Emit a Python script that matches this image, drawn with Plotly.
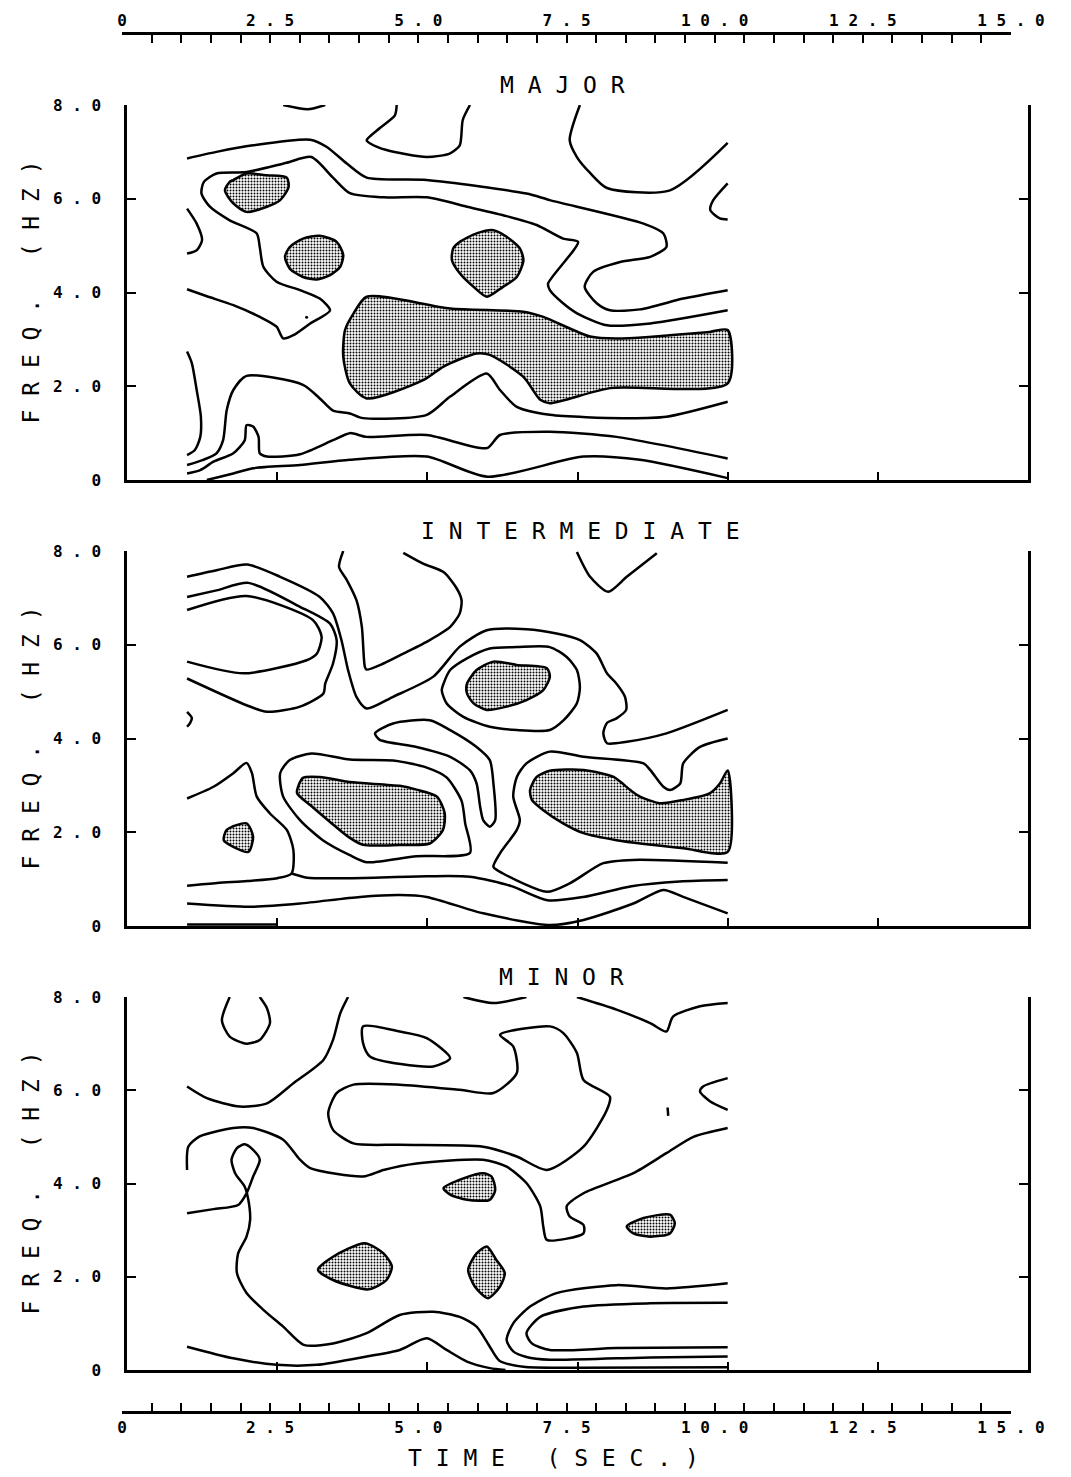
import plotly.graph_objects as go

W, H = 1071, 1477

# ---------------- tick labels / titles ----------------
freq_ticks = [0, 2, 4, 6, 8]
freq_labels = ["0", "2 . 0", "4 . 0", "6 . 0", "8 . 0"]
time_ticks = [i * 0.5 for i in range(31)]
time_major = {0: "0", 2.5: "2 . 5", 5: "5 . 0", 7.5: "7 . 5", 10: "1 0 . 0", 12.5: "1 2 . 5", 15: "1 5 . 0"}
panel_titles = ["M A J O R", "I N T E R M E D I A T E", "M I N O R"]
y_title = "F R E Q .   ( H Z )"
x_title = "T I M E   ( S E C . )"

# ---------------- MAJOR : contour lines (time s, freq Hz) ----------------
major_top_arc = [(2.60, 8.0), (3.01, 7.91), (3.30, 8.0)]
major_hang = [(4.49, 8.0), (4.46, 7.78), (4.21, 7.51), (3.99, 7.25), (4.05, 7.18), (4.32, 7.04), (4.99, 6.89),
              (5.38, 6.97), (5.54, 7.14), (5.59, 7.68), (5.71, 8.0)]
major_upper_right = [(7.54, 8.0), (7.37, 7.25), (7.49, 6.89), (7.71, 6.55), (7.99, 6.23), (9.04, 6.18), (10.0, 7.19)]
major_right_arc = [(10.0, 6.33), (9.76, 5.97), (9.71, 5.76), (9.87, 5.58), (10.0, 5.56)]
major_outer = [(1.0, 6.86), (1.49, 7.00), (2.10, 7.14), (3.05, 7.26), (3.32, 7.11), (3.66, 6.75), (3.99, 6.45),
               (4.99, 6.40), (6.65, 6.11), (7.04, 5.97), (8.60, 5.47), (8.93, 5.26), (8.98, 4.97), (8.71, 4.76),
               (8.21, 4.65), (7.76, 4.44), (7.62, 4.12), (7.82, 3.77), (8.04, 3.62), (8.54, 3.64), (9.26, 3.87),
               (10.0, 4.05)]
major_left_arc = [(1.0, 5.79), (1.16, 5.47), (1.25, 5.12), (1.16, 4.90), (1.0, 4.83)]
major_inner = [(10.0, 3.62), (8.71, 3.34), (7.99, 3.30), (7.5, 3.55), (7.26, 3.77), (7.04, 4.05), (7.01, 4.19),
               (7.51, 5.08), (7.26, 5.15), (6.82, 5.44), (6.32, 5.63), (5.66, 5.83), (4.99, 6.03), (4.27, 6.03),
               (3.71, 6.12), (3.43, 6.45), (3.07, 6.89), (2.66, 6.77), (1.99, 6.57), (1.49, 6.54), (1.28, 6.36),
               (1.24, 6.11), (1.38, 5.83), (1.71, 5.54), (2.16, 5.26), (2.21, 4.97), (2.27, 4.55), (2.49, 4.23),
               (2.88, 4.05), (3.21, 3.87), (3.38, 3.62), (3.05, 3.34), (2.77, 3.09), (2.60, 3.02), (2.49, 3.27),
               (2.21, 3.48), (1.77, 3.73), (1.33, 3.92), (1.0, 4.07)]
major_dot = [(2.99, 3.47)]
major_low_arc = [(1.0, 2.74), (1.08, 2.49), (1.16, 1.92), (1.23, 1.35), (1.22, 0.92), (1.13, 0.64), (1.0, 0.53)]
major_g = [(1.0, 0.32), (1.27, 0.43), (1.49, 0.57), (1.60, 0.85), (1.66, 1.49), (1.77, 1.92), (1.99, 2.22),
           (2.93, 2.03), (3.21, 1.74), (3.43, 1.48), (3.71, 1.42), (3.93, 1.32), (4.99, 1.39), (5.38, 1.78),
           (5.99, 2.27), (6.21, 1.92), (6.49, 1.56), (7.04, 1.39), (8.26, 1.32), (8.98, 1.35), (10.0, 1.67)]
major_h = [(1.0, 0.14), (1.22, 0.21), (1.44, 0.39), (1.77, 0.57), (1.96, 0.85), (1.99, 1.17), (2.10, 1.14),
           (2.19, 0.92), (2.21, 0.57), (2.33, 0.50), (2.88, 0.55), (3.43, 0.85), (3.71, 1.0), (3.99, 0.92),
           (4.99, 0.96), (5.99, 0.68), (6.21, 0.96), (7.04, 1.03), (8.15, 0.92), (10.0, 0.46)]
major_i = [(1.33, 0.0), (1.77, 0.14), (2.10, 0.25), (2.88, 0.32), (3.71, 0.43), (4.99, 0.50), (6.0, 0.07),
           (7.6, 0.50), (8.54, 0.43), (10.0, 0.04)]
# MAJOR : shaded (highest level) areas
major_blob1 = [(1.77, 6.40), (1.99, 6.54), (2.33, 6.50), (2.66, 6.45), (2.69, 6.25), (2.55, 5.97), (2.33, 5.83),
               (1.99, 5.72), (1.77, 5.90), (1.63, 6.18), (1.71, 6.36)]
major_blob2 = [(2.71, 4.97), (2.93, 5.15), (3.21, 5.21), (3.49, 5.08), (3.60, 4.80), (3.55, 4.55), (3.38, 4.37),
               (3.16, 4.28), (2.93, 4.33), (2.71, 4.51), (2.63, 4.76)]
major_blob3 = [(5.54, 5.08), (5.82, 5.26), (6.10, 5.33), (6.32, 5.19), (6.54, 4.94), (6.60, 4.69), (6.49, 4.33),
               (6.26, 4.12), (5.99, 3.91), (5.77, 4.12), (5.54, 4.41), (5.41, 4.69), (5.43, 4.94)]
major_band = [(3.99, 3.91), (5.38, 3.66), (6.60, 3.59), (6.93, 3.48), (7.71, 3.06), (8.15, 3.02), (9.70, 3.16),
              (10.0, 3.20), (10.0, 2.06), (8.04, 1.96), (7.04, 1.64), (6.88, 1.71), (6.60, 2.20), (6.04, 2.67),
              (5.82, 2.70), (5.27, 2.42), (4.93, 2.13), (3.99, 1.74), (3.71, 2.06), (3.60, 2.63), (3.63, 3.20),
              (3.77, 3.55)]

# ---------------- INTERMEDIATE ----------------
inter_a = [(1.0, 7.45), (1.49, 7.59), (2.0, 7.71), (2.55, 7.45), (3.21, 7.02), (3.43, 6.67), (3.57, 6.10),
           (3.68, 5.46), (3.82, 4.89), (3.99, 4.64), (4.43, 4.89), (5.10, 5.32), (5.54, 5.96), (5.99, 6.31),
           (6.65, 6.33), (7.15, 6.24), (7.54, 6.10), (7.82, 5.81), (7.99, 5.39), (8.15, 5.17), (8.29, 4.89),
           (8.31, 4.61), (8.15, 4.43), (7.99, 4.33), (7.93, 4.11), (7.99, 3.90), (8.32, 3.93), (8.98, 4.11),
           (10.0, 4.61)]
inter_hang = [(3.60, 8.0), (3.53, 7.66), (3.66, 7.38), (3.82, 6.95), (3.91, 6.38), (3.96, 5.53), (3.99, 5.47),
              (4.27, 5.60), (4.60, 5.81), (5.04, 6.10), (5.38, 6.38), (5.54, 6.67), (5.57, 6.95), (5.49, 7.20),
              (5.27, 7.55), (4.93, 7.73), (4.60, 7.96)]
inter_top_v = [(7.49, 7.98), (7.71, 7.45), (8.01, 7.13), (8.32, 7.45), (8.82, 7.95)]
inter_b = [(1.0, 7.02), (1.49, 7.16), (2.02, 7.32), (2.88, 6.81), (3.38, 6.45), (3.49, 6.10), (3.43, 5.60),
           (3.30, 5.17), (3.27, 4.96), (2.88, 4.68), (2.33, 4.57), (1.99, 4.71), (1.0, 5.28)]
inter_c = [(1.0, 6.74), (1.99, 7.04), (3.10, 6.52), (3.24, 6.17), (3.16, 5.81), (2.99, 5.67), (1.94, 5.39),
           (1.0, 5.64)]
inter_small = [(1.0, 4.57), (1.08, 4.44), (1.05, 4.33), (1.0, 4.25)]
inter_ring4 = [(5.27, 5.17), (5.38, 5.46), (5.66, 5.71), (6.04, 5.92), (6.49, 5.95), (7.04, 5.95), (7.32, 5.74),
               (7.49, 5.46), (7.54, 5.10), (7.49, 4.75), (7.27, 4.39), (7.04, 4.18), (6.49, 4.18), (6.04, 4.25),
               (5.60, 4.46), (5.32, 4.75), (5.24, 5.03), (5.27, 5.17)]
inter_island = [(4.13, 4.11), (4.43, 4.32), (5.04, 4.39), (5.38, 4.18), (5.82, 3.82), (6.04, 3.54), (6.10, 3.04),
                (6.13, 2.26), (6.04, 2.12), (5.93, 2.26), (5.88, 2.54), (5.82, 3.04), (5.71, 3.32), (5.38, 3.61),
                (4.82, 3.82), (4.21, 3.97), (4.13, 4.11)]
inter_ring6 = [(3.07, 3.68), (2.71, 3.54), (2.55, 3.26), (2.60, 2.76), (2.88, 2.26), (3.26, 1.83), (3.71, 1.51),
               (3.99, 1.36), (4.82, 1.49), (5.71, 1.56), (5.63, 2.19), (5.57, 2.67), (5.32, 3.17), (4.99, 3.38),
               (4.43, 3.53), (3.71, 3.55), (3.07, 3.68)]
inter_ring5 = [(10.0, 4.0), (9.54, 3.82), (9.26, 3.47), (9.21, 3.04), (9.04, 2.90), (8.93, 2.97), (8.71, 3.33),
               (8.60, 3.47), (7.60, 3.61), (7.04, 3.72), (6.65, 3.47), (6.49, 3.18), (6.43, 2.76), (6.54, 2.26),
               (6.49, 2.05), (6.21, 1.55), (6.10, 1.26), (6.26, 1.12), (6.99, 0.73), (7.37, 0.91), (7.93, 1.34),
               (8.43, 1.41), (10.0, 1.35)]
inter_left = [(1.0, 2.72), (1.44, 2.97), (1.77, 3.26), (1.99, 3.48), (2.08, 3.26), (2.16, 2.76), (2.38, 2.40),
              (2.66, 2.05), (2.77, 1.62), (2.74, 1.12), (2.5, 1.02), (2.0, 0.96), (1.5, 0.92), (1.0, 0.86)]
inter_low2 = [(2.74, 1.12), (3.0, 1.03), (3.71, 1.02), (4.99, 1.06), (5.71, 1.05), (6.4, 0.85), (7.0, 0.55),
              (7.6, 0.62), (8.4, 0.85), (9.2, 0.95), (10.0, 0.98)]
inter_low3 = [(1.0, 0.48), (2.05, 0.41), (2.88, 0.48), (3.88, 0.62), (4.54, 0.66), (4.99, 0.62), (5.93, 0.27),
              (7.04, 0.02), (7.60, 0.13), (8.43, 0.48), (8.93, 0.77), (9.26, 0.62), (10.0, 0.27)]
inter_base = [(1.0, 0.03), (2.5, 0.03)]
inter_blob4 = [(5.66, 5.17), (5.82, 5.46), (6.10, 5.64), (6.49, 5.57), (6.99, 5.50), (7.04, 5.32), (6.93, 5.03),
               (6.65, 4.82), (6.32, 4.68), (5.99, 4.61), (5.77, 4.75), (5.66, 4.96)]
inter_blob5 = [(6.71, 2.90), (6.82, 3.18), (7.04, 3.31), (7.60, 3.33), (8.10, 3.18), (8.38, 2.90), (8.54, 2.76),
               (8.87, 2.62), (9.26, 2.69), (9.70, 2.83), (9.87, 3.04), (10.0, 3.32), (10.0, 1.58), (9.26, 1.66),
               (8.15, 1.83), (7.60, 1.98), (7.26, 2.19), (6.93, 2.47), (6.74, 2.69)]
inter_blob6 = [(2.93, 3.16), (3.21, 3.18), (3.71, 3.07), (4.54, 2.99), (4.82, 2.91), (5.16, 2.76), (5.29, 2.40),
               (5.26, 2.05), (5.04, 1.76), (4.54, 1.73), (3.93, 1.73), (3.71, 1.88), (3.38, 2.22), (3.05, 2.58),
               (2.83, 2.84)]
inter_blob7 = [(1.66, 2.05), (1.99, 2.19), (2.10, 1.90), (2.02, 1.58), (1.77, 1.69), (1.61, 1.83)]

# ---------------- MINOR ----------------
minor_cap = [(1.71, 8.0), (1.58, 7.50), (1.71, 7.15), (1.99, 7.0), (2.21, 7.08), (2.38, 7.44), (2.33, 7.76),
             (2.21, 8.0)]
minor_upper = [(1.0, 6.08), (1.33, 5.83), (1.88, 5.65), (2.33, 5.72), (2.77, 6.15), (3.27, 6.65), (3.43, 7.08),
               (3.55, 7.65), (3.68, 8.0)]
minor_isle = [(3.93, 7.37), (4.54, 7.26), (4.99, 7.12), (5.38, 6.69), (5.10, 6.51), (4.05, 6.72), (3.93, 7.01),
              (3.93, 7.37)]
minor_top_dip = [(5.60, 8.0), (6.10, 7.87), (6.65, 8.0)]
minor_top_right = [(7.49, 8.0), (8.15, 7.73), (8.71, 7.44), (8.98, 7.26), (9.09, 7.58), (9.54, 7.80), (10.0, 7.87)]
minor_right_arc = [(10.0, 6.26), (9.59, 6.08), (9.54, 5.97), (9.71, 5.76), (10.0, 5.58)]
minor_tick = [(9.0, 5.63), (9.01, 5.45)]
minor_loop = [(4.54, 4.83), (5.93, 4.79), (6.49, 4.58), (6.99, 4.29), (7.60, 4.79), (7.99, 5.58), (8.04, 5.86),
              (7.60, 6.22), (7.49, 6.80), (7.26, 7.23), (7.04, 7.37), (6.21, 7.19), (6.43, 6.94), (6.49, 6.37),
              (6.10, 5.94), (5.54, 6.01), (4.54, 6.12), (3.77, 6.12), (3.49, 5.94), (3.35, 5.51), (3.43, 5.15),
              (3.77, 4.86), (4.54, 4.83)]
minor_long = [(1.0, 4.29), (1.02, 4.79), (1.21, 5.01), (1.77, 5.19), (2.10, 5.19), (2.60, 4.94), (2.88, 4.51),
              (3.05, 4.33), (3.93, 4.15), (4.27, 4.29), (4.82, 4.43), (5.93, 4.51), (6.32, 4.36), (6.65, 4.01),
              (6.88, 3.51), (6.93, 3.08), (6.99, 2.79), (7.60, 2.93), (7.60, 3.11), (7.37, 3.29), (7.32, 3.51),
              (7.60, 3.79), (8.43, 4.22), (8.98, 4.65), (9.43, 5.0), (10.0, 5.19)]
minor_eight = [(1.0, 3.36), (1.44, 3.45), (1.85, 3.54), (1.99, 3.79), (2.10, 4.15), (2.21, 4.51), (2.10, 4.72),
               (1.96, 4.84), (1.83, 4.76), (1.74, 4.51), (1.80, 4.22), (1.96, 3.93), (2.02, 3.65), (2.05, 3.22),
               (1.99, 2.86), (1.85, 2.50), (1.83, 2.08), (1.99, 1.65), (2.27, 1.29), (2.60, 0.93), (2.94, 0.54),
               (3.43, 0.57), (3.99, 0.79), (4.54, 1.18), (5.10, 1.25), (5.54, 1.14), (5.82, 0.93), (6.04, 0.50),
               (6.2, 0.2), (6.6, 0.07), (7.5, 0.05), (10.0, 0.06)]
minor_u1 = [(10.0, 1.86), (8.98, 1.75), (8.15, 1.82), (7.15, 1.65), (6.71, 1.36), (6.43, 1.0), (6.32, 0.64),
            (6.43, 0.40), (6.65, 0.28), (7.04, 0.22), (8.71, 0.27), (10.0, 0.29)]
minor_u2 = [(10.0, 1.44), (8.71, 1.43), (7.60, 1.36), (6.88, 1.14), (6.65, 0.79), (6.74, 0.57), (7.04, 0.43),
            (8.15, 0.47), (10.0, 0.49)]
minor_bottom = [(1.0, 0.50), (1.77, 0.25), (2.49, 0.11), (3.16, 0.11), (3.99, 0.29), (4.54, 0.43), (4.99, 0.68),
                (5.32, 0.43), (5.66, 0.18), (6.04, 0.04), (6.3, 0.0)]
minor_blob_a = [(3.18, 2.15), (3.43, 2.43), (3.96, 2.72), (4.27, 2.50), (4.41, 2.22), (4.32, 1.93), (4.02, 1.73),
                (3.43, 1.93)]
minor_blob_b = [(5.27, 3.90), (5.60, 4.11), (5.93, 4.22), (6.07, 4.15), (6.13, 3.86), (6.04, 3.65), (5.66, 3.65),
                (5.38, 3.76)]
minor_blob_c = [(5.68, 2.15), (5.82, 2.50), (5.99, 2.65), (6.15, 2.36), (6.29, 2.08), (6.21, 1.79), (6.01, 1.54),
                (5.79, 1.79)]
minor_blob_d = [(8.32, 3.08), (8.60, 3.26), (9.04, 3.33), (9.12, 3.15), (9.04, 2.93), (8.71, 2.86), (8.43, 2.93)]

panels = [
    dict(lines=[major_top_arc, major_hang, major_upper_right, major_right_arc, major_outer, major_left_arc,
                major_inner, major_low_arc, major_g, major_h, major_i],
         dots=[major_dot],
         shaded=[major_blob1, major_blob2, major_blob3, major_band]),
    dict(lines=[inter_a, inter_hang, inter_top_v, inter_b, inter_c, inter_small, inter_ring4, inter_island,
                inter_ring6, inter_ring5, inter_left, inter_low2, inter_low3, inter_base],
         dots=[],
         shaded=[inter_blob4, inter_blob5, inter_blob6, inter_blob7]),
    dict(lines=[minor_cap, minor_upper, minor_isle, minor_top_dip, minor_top_right, minor_right_arc, minor_tick,
                minor_loop, minor_long, minor_eight, minor_u1, minor_u2, minor_bottom],
         dots=[],
         shaded=[minor_blob_a, minor_blob_b, minor_blob_c, minor_blob_d]),
]

LW = 2.5
fig = go.Figure()
for k, p in enumerate(panels, start=1):
    xa, ya = f"x{k}", f"y{k}"
    for poly in p["shaded"]:
        pts = poly + [poly[0]]
        fig.add_trace(go.Scatter(
            x=[a for a, b in pts], y=[b for a, b in pts], xaxis=xa, yaxis=ya, mode="lines",
            fill="toself", fillcolor="white",
            fillpattern=dict(shape=".", size=3, solidity=0.35, fgcolor="black", bgcolor="white"),
            line=dict(color="black", width=LW, shape="spline", smoothing=0.7), hoverinfo="skip"))
    for ln in p["lines"]:
        fig.add_trace(go.Scatter(
            x=[a for a, b in ln], y=[b for a, b in ln], xaxis=xa, yaxis=ya, mode="lines",
            line=dict(color="black", width=LW, shape="spline", smoothing=0.7), hoverinfo="skip"))
    for d in p["dots"]:
        fig.add_trace(go.Scatter(
            x=[a for a, b in d], y=[b for a, b in d], xaxis=xa, yaxis=ya, mode="markers",
            marker=dict(color="black", size=3), hoverinfo="skip"))

# dummy traces binding the separate time axes
fig.add_trace(go.Scatter(x=[0, 15], y=[-5, -5], xaxis="x4", yaxis="y4", mode="lines",
                         line=dict(width=0), hoverinfo="skip"))
fig.add_trace(go.Scatter(x=[0, 15], y=[-5, -5], xaxis="x5", yaxis="y4", mode="lines",
                         line=dict(width=0), hoverinfo="skip"))

xd = [127 / W, 1028 / W]
ydoms = [(1 - 480 / H, 1 - 105 / H), (1 - 926 / H, 1 - 551 / H), (1 - 1370 / H, 1 - 997 / H)]
tick_font = dict(family="DejaVu Sans Mono", size=16, color="black", weight="bold")

layout = dict(
    template="none",
    width=W, height=H, margin=dict(l=0, r=0, t=0, b=0, pad=0), autosize=False,
    paper_bgcolor="white", plot_bgcolor="rgba(0,0,0,0)", showlegend=False,
    font=dict(family="DejaVu Sans Mono", color="black"),
)
for k in range(1, 4):
    layout[f"xaxis{k}"] = dict(
        domain=xd, range=[0, 15], anchor=f"y{k}", showline=True, linewidth=2.5, linecolor="black",
        ticks="inside", tickvals=[0, 2.5, 5, 7.5, 10, 12.5, 15], ticklen=8, tickwidth=2, tickcolor="black",
        showticklabels=False, showgrid=False, zeroline=False, automargin=False)
    layout[f"yaxis{k}"] = dict(
        domain=list(ydoms[k - 1]), range=[0, 8], anchor=f"x{k}", showline=True, mirror="ticks",
        linewidth=2.5, linecolor="black", ticks="inside", tickvals=freq_ticks, ticktext=freq_labels,
        ticklen=9, tickwidth=2, tickcolor="black", tickfont=tick_font, ticklabelstandoff=20,
        showgrid=False, zeroline=False, automargin=False)

time_text = [time_major.get(v, "") for v in time_ticks]
tdom = [122 / W, 1011 / W]
layout["xaxis4"] = dict(domain=tdom, range=[0, 15], anchor="free", position=1 - 33 / H, side="top",
                        showline=True, linewidth=2.5, linecolor="black", ticks="inside", tickvals=time_ticks,
                        ticktext=time_text, ticklen=8, tickwidth=2, tickcolor="black", tickfont=tick_font,
                        ticklabelstandoff=0, showgrid=False, zeroline=False, automargin=False)
layout["xaxis5"] = dict(domain=tdom, range=[0, 15], anchor="free", position=1 - 1412 / H, side="bottom",
                        showline=True, linewidth=2.5, linecolor="black", ticks="inside", tickvals=time_ticks,
                        ticktext=time_text, ticklen=8, tickwidth=2, tickcolor="black", tickfont=tick_font,
                        ticklabelstandoff=0, showgrid=False, zeroline=False, automargin=False)
layout["yaxis4"] = dict(domain=[0, 1], range=[0, 1], anchor="x4", visible=False, automargin=False)

annotations = []
title_pos = [(562, 85), (580, 531), (561, 977)]
for (tx, ty), txt in zip(title_pos, panel_titles):
    annotations.append(dict(text=txt, x=tx / W, y=1 - ty / H, xref="paper", yref="paper", showarrow=False,
                            xanchor="center", yanchor="middle",
                            font=dict(family="DejaVu Sans Mono", size=23, color="black")))
for (y0, y1) in ydoms:
    annotations.append(dict(text=y_title, x=30 / W, y=(y0 + y1) / 2, xref="paper", yref="paper",
                            showarrow=False, textangle=-90, xanchor="center", yanchor="middle",
                            font=dict(family="DejaVu Sans Mono", size=23, color="black")))
annotations.append(dict(text=x_title, x=553 / W, y=1 - 1458 / H, xref="paper", yref="paper", showarrow=False,
                        xanchor="center", yanchor="middle",
                        font=dict(family="DejaVu Sans Mono", size=23, color="black")))
layout["annotations"] = annotations

fig.update_layout(**layout)
fig.write_html("out.html")
